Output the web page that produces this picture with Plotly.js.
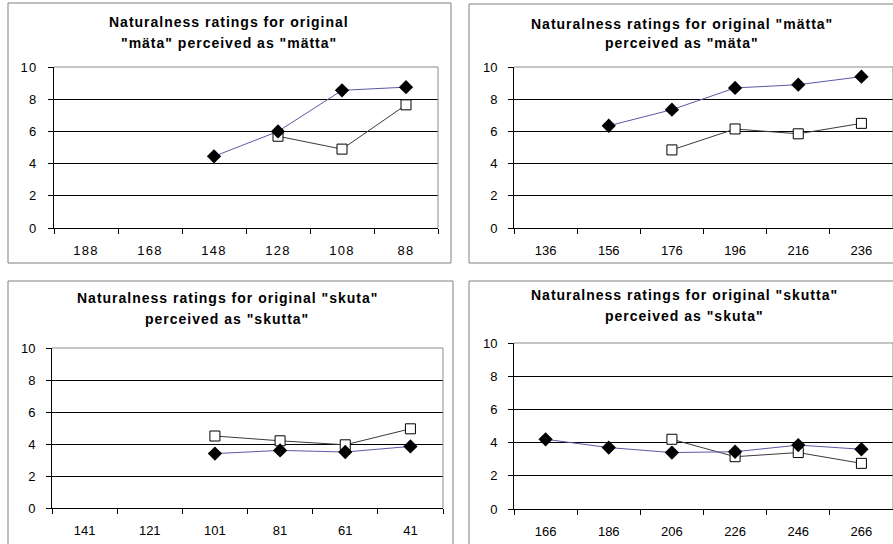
<!DOCTYPE html>
<html>
<head>
<meta charset="utf-8">
<script src="https://cdn.plot.ly/plotly-3.0.1.min.js"></script>
<style>
  html, body { margin: 0; padding: 0; background: #fff; }
  #chart { width: 893px; height: 544px; }
  .annotation-text { letter-spacing: 1px; }
  .xtick text, .ytick text { letter-spacing: 1.2px; }
</style>
</head>
<body>
<div id="chart"></div>
<script>
// ---- data ----
const cats1 = ["188", "168", "148", "128", "108", "88"];
const diam1 = [null, null, 4.45, 6.0, 8.55, 8.75];
const sq1   = [null, null, null, 5.7, 4.9, 7.65];

const cats2 = ["136", "156", "176", "196", "216", "236"];
const diam2 = [null, 6.35, 7.35, 8.7, 8.9, 9.4];
const sq2   = [null, null, 4.85, 6.15, 5.85, 6.5];

const cats3 = ["141", "121", "101", "81", "61", "41"];
const diam3 = [null, null, 3.4, 3.6, 3.5, 3.85];
const sq3   = [null, null, 4.5, 4.2, 3.95, 4.95];

const cats4 = ["166", "186", "206", "226", "246", "266"];
const diam4 = [4.2, 3.7, 3.4, 3.45, 3.85, 3.6];
const sq4   = [null, null, 4.2, 3.15, 3.4, 2.75];

const titles = [
  ["Naturalness ratings for original", "\"mäta\" perceived as \"mätta\""],
  ["Naturalness ratings for original \"mätta\"", "perceived as \"mäta\""],
  ["Naturalness ratings for original \"skuta\"", "perceived as \"skutta\""],
  ["Naturalness ratings for original \"skutta\"", "perceived as \"skuta\""]
];
const yTicks = [0, 2, 4, 6, 8, 10];

// ---- layout helpers (pixels -> paper) ----
const W = 893, H = 544;
const px = x => x / W;
const py = y => 1 - y / H;

const panels = [
  {cats: cats1, d: diam1, s: sq1, dom: [54, 438, 67, 228],  frame: [8, 451, 3, 263],   t: [229, 22, 43]},
  {cats: cats2, d: diam2, s: sq2, dom: [514, 893, 67, 228], frame: [469, 905, 4, 263], t: [682, 24, 43]},
  {cats: cats3, d: diam3, s: sq3, dom: [52, 443, 348, 508], frame: [8, 453, 281, 560], t: [227, 298, 319]},
  {cats: cats4, d: diam4, s: sq4, dom: [514, 893, 343, 509], frame: [469, 905, 281, 560], t: [684, 295, 316]}
];

const font = "Liberation Sans, Arial, sans-serif";
const traces = [];
const layout = {
  width: W, height: H,
  margin: {l: 0, r: 0, t: 0, b: 0},
  paper_bgcolor: "#ffffff",
  plot_bgcolor: "#ffffff",
  showlegend: false,
  font: {family: font, size: 12, color: "#000"},
  shapes: [],
  annotations: []
};

panels.forEach((p, i) => {
  const n = i + 1;
  const xa = "x" + (n === 1 ? "" : n), ya = "y" + (n === 1 ? "" : n);
  const xk = "xaxis" + (n === 1 ? "" : n), yk = "yaxis" + (n === 1 ? "" : n);

  traces.push({
    type: "scatter", mode: "lines+markers", x: p.cats, y: p.s,
    xaxis: xa, yaxis: ya, cliponaxis: false,
    line: {color: "#3a3a3a", width: 1},
    marker: {symbol: "square", size: 10, color: "#ffffff", line: {color: "#000", width: 1}}
  });
  traces.push({
    type: "scatter", mode: "lines+markers", x: p.cats, y: p.d,
    xaxis: xa, yaxis: ya, cliponaxis: false,
    line: {color: "#5a5aa6", width: 1},
    marker: {symbol: "diamond", size: 11, color: "#000000", line: {color: "#000", width: 0}}
  });

  layout[xk] = {
    domain: [px(p.dom[0]), px(p.dom[1])],
    anchor: ya, type: "category", categoryorder: "array", categoryarray: p.cats,
    range: [-0.5, 5.5], tickson: "boundaries",
    ticks: "outside", ticklen: 5, tickcolor: "#000", tickwidth: 1,
    showline: true, linecolor: "#000", linewidth: 1,
    showgrid: false, zeroline: false, fixedrange: true,
    tickfont: {family: font, size: 13, color: "#000"},
    ticklabelstandoff: 10
  };
  layout[yk] = {
    domain: [py(p.dom[3]), py(p.dom[2])],
    anchor: xa, range: [0, 10], tickvals: yTicks,
    ticks: "outside", ticklen: 5, tickcolor: "#000", tickwidth: 1,
    showline: true, linecolor: "#000", linewidth: 1,
    showgrid: true, gridcolor: "#000", gridwidth: 1, zeroline: false, fixedrange: true,
    tickfont: {family: font, size: 13, color: "#000"},
    ticklabelstandoff: 8
  };

  // outer chart frame
  layout.shapes.push({
    type: "rect", xref: "paper", yref: "paper",
    x0: px(p.frame[0]), x1: px(p.frame[1]), y0: py(p.frame[3]), y1: py(p.frame[2]),
    line: {color: "#808080", width: 1}, fillcolor: "rgba(0,0,0,0)", layer: "below"
  });
  // grey plot-area border (top & right)
  layout.shapes.push({
    type: "line", xref: xa + " domain", yref: ya + " domain",
    x0: 0, x1: 1, y0: 1, y1: 1, line: {color: "#8c8c8c", width: 1}, layer: "above"
  });
  layout.shapes.push({
    type: "line", xref: xa + " domain", yref: ya + " domain",
    x0: 1, x1: 1, y0: 0, y1: 1, line: {color: "#8c8c8c", width: 1}, layer: "above"
  });

  // titles
  [1, 2].forEach(k => {
    layout.annotations.push({
      xref: "paper", yref: "paper", x: px(p.t[0]), y: py(p.t[k]),
      xanchor: "center", yanchor: "middle", showarrow: false,
      text: "<b>" + titles[i][k - 1] + "</b>",
      font: {family: font, size: 14, color: "#000"}
    });
  });
});

Plotly.newPlot("chart", traces, layout, {displayModeBar: false, staticPlot: true});
</script>
</body>
</html>
